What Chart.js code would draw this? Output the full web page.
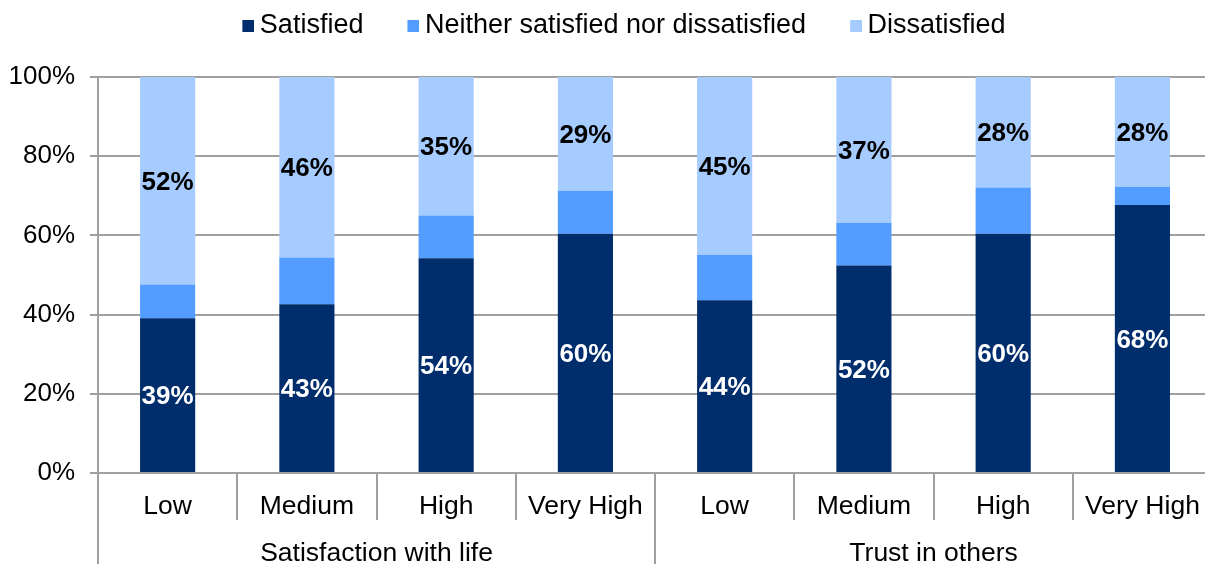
<!DOCTYPE html>
<html>
<head>
<meta charset="utf-8">
<script src="https://cdn.jsdelivr.net/npm/chart.js@4"></script>
<style>
html,body{margin:0;padding:0;background:#fff;overflow:hidden;}
#wrap{position:relative;width:1218px;height:564px;}
canvas{display:block;}
</style>
</head>
<body>
<div id="wrap"><canvas id="c" width="1218" height="564"></canvas></div>
<script>
const categories = ['Low','Medium','High','Very High','Low','Medium','High','Very High'];
const groups = ['Satisfaction with life','Trust in others'];
const satisfied = [39.1, 42.6, 54.2, 60.4, 43.6, 52.4, 60.4, 67.7];
const neither = [8.5, 11.8, 10.8, 10.9, 11.5, 10.8, 11.7, 4.6];
const dissatisfied = [52.4, 45.6, 35.0, 28.7, 44.9, 36.8, 27.9, 27.7];
const yTicks = [0, 20, 40, 60, 80, 100];

const FONT = "'Liberation Sans', Arial, sans-serif";
const GRID = '#a0a0a0';
const COLORS = ['#002D6B', '#529DFF', '#A6CBFF'];

function legendSquare(color) {
  const c = document.createElement('canvas');
  c.width = 28; c.height = 12;
  const g = c.getContext('2d');
  g.fillStyle = color;
  g.fillRect(16, 0, 12, 12);
  return c;
}
const squares = COLORS.map(legendSquare);

const legendTweak = {
  id: 'legendTweak',
  beforeInit(chart) {
    const lg = chart.legend;
    const of = lg.fit;
    lg.fit = function () { of.apply(this, arguments); this.height += 4; };
    const od = lg.draw;
    lg.draw = function () {
      const ctx = this.ctx;
      ctx.save();
      ctx.translate(12, -24);
      od.apply(this, arguments);
      ctx.restore();
    };
  }
};

const decor = {
  id: 'decor',
  afterDatasetsDraw(chart) {
    const ctx = chart.ctx;
    const x = chart.scales.x;
    const ca = chart.chartArea;
    const H = chart.height;
    ctx.save();
    ctx.strokeStyle = GRID;
    ctx.lineWidth = 2;
    const n = categories.length;
    for (let i = 0; i < n; i++) {
      let bx;
      if (i === 0) bx = ca.left;
      else bx = (x.getPixelForValue(i - 1) + x.getPixelForValue(i)) / 2;
      const full = (i === 0 || i === n / 2);
      ctx.beginPath();
      ctx.moveTo(Math.round(bx), ca.bottom);
      ctx.lineTo(Math.round(bx), full ? H : 520);
      ctx.stroke();
    }
    ctx.beginPath();
    ctx.moveTo(Math.round(ca.left), ca.top);
    ctx.lineTo(Math.round(ca.left), ca.bottom);
    ctx.stroke();
    // data labels
    ctx.font = "bold 26px " + FONT;
    ctx.textAlign = 'center';
    ctx.textBaseline = 'middle';
    const specs = [[0, '#ffffff'], [2, '#000000']];
    specs.forEach(([di, col]) => {
      const meta = chart.getDatasetMeta(di);
      const data = chart.data.datasets[di].data;
      meta.data.forEach((el, i) => {
        const p = el.getCenterPoint();
        ctx.fillStyle = col;
        ctx.fillText(Math.round(data[i]) + '%', p.x, p.y + 2);
      });
    });
    ctx.restore();
  }
};

new Chart(document.getElementById('c'), {
  type: 'bar',
  data: {
    labels: categories,
    datasets: [
      { label: 'Satisfied', data: satisfied, backgroundColor: COLORS[0], borderWidth: 0 },
      { label: 'Neither satisfied nor dissatisfied', data: neither, backgroundColor: COLORS[1], borderWidth: 0 },
      { label: 'Dissatisfied', data: dissatisfied, backgroundColor: COLORS[2], borderWidth: 0 }
    ]
  },
  options: {
    responsive: false,
    animation: false,
    devicePixelRatio: 1,
    layout: { padding: { left: 0, right: 2, top: 0, bottom: 0 } },
    datasets: { bar: { barPercentage: 0.396, categoryPercentage: 1.0 } },
    plugins: {
      legend: {
        position: 'top',
        labels: {
          usePointStyle: true,
          pointStyleWidth: 12,
          boxWidth: 12, boxHeight: 12,
          font: { family: FONT, size: 27 },
          color: '#000',
          padding: 36,
          generateLabels(chart) {
            const items = Chart.defaults.plugins.legend.labels.generateLabels(chart);
            items.forEach((it, i) => { it.pointStyle = squares[i]; });
            return items;
          }
        }
      },
      tooltip: { enabled: false }
    },
    scales: {
      x: {
        stacked: true,
        grid: { display: false, drawTicks: false },
        border: { display: false },
        ticks: { font: { family: FONT, size: 26.5 }, color: '#000', padding: 18, maxRotation: 0, autoSkip: false },
        afterFit(s) { s.height = 60; }
      },
      x2: {
        type: 'category',
        position: 'bottom',
        labels: groups,
        offset: true,
        grid: { display: false, drawTicks: false },
        border: { display: false },
        ticks: { font: { family: FONT, size: 26.5 }, color: '#000', padding: 5, maxRotation: 0 },
        afterFit(s) { s.height = 31; }
      },
      y: {
        stacked: true,
        min: 0, max: 100,
        afterBuildTicks(s) { s.ticks = yTicks.map(v => ({ value: v })); },
        grid: { color: GRID, lineWidth: 2, tickLength: 8 },
        border: { display: false },
        ticks: { font: { family: FONT, size: 26 }, color: '#000', padding: 15, callback: v => v + '%' },
        afterFit(s) { s.width = 98; }
      }
    }
  },
  plugins: [legendTweak, decor]
});
</script>
</body>
</html>
